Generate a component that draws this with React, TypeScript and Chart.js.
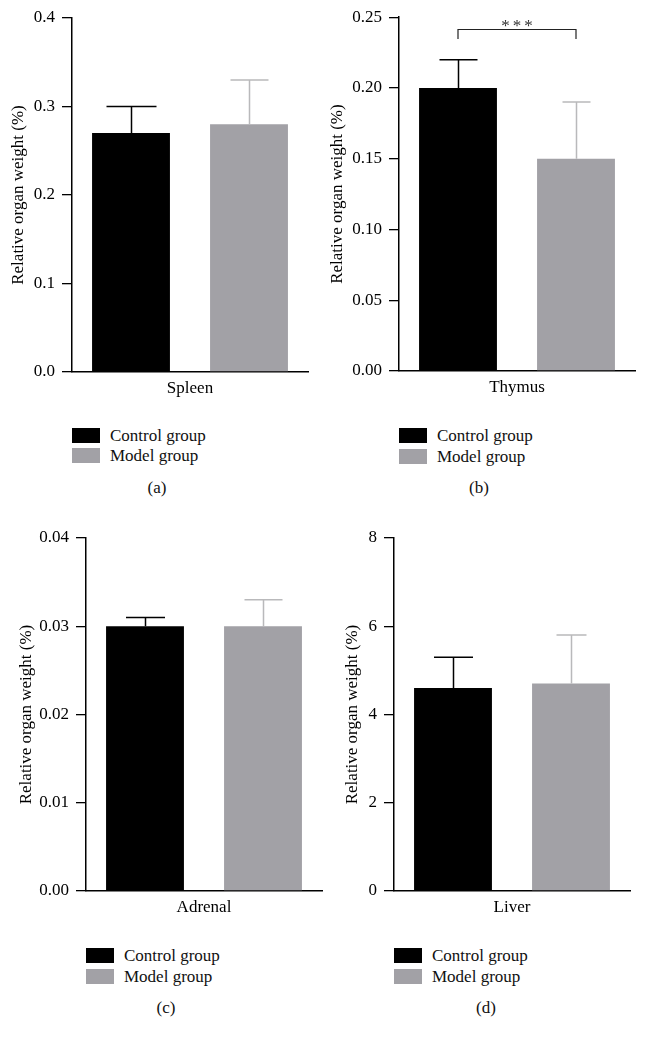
import React, { useEffect, useRef } from "react";
import { Chart, registerables } from "chart.js";

Chart.register(...registerables);

// ---------- data ----------
const seriesNames = ["Control group", "Model group"];
const organs = ["Spleen", "Thymus", "Adrenal", "Liver"];
const panelLetters = ["(a)", "(b)", "(c)", "(d)"];
const yAxisTitle = "Relative organ weight (%)";
const controlMeans = [0.27, 0.2, 0.03, 4.6];
const controlSD = [0.03, 0.02, 0.001, 0.7];
const modelMeans = [0.28, 0.15, 0.03, 4.7];
const modelSD = [0.05, 0.04, 0.003, 1.1];
const yMax = [0.4, 0.25, 0.04, 8];
const yStep = [0.1, 0.05, 0.01, 2];
const yDecimals = [1, 2, 2, 0];
const sigLabels = ["", "***", "", ""];
const sigBracketValue = [0, 0.2415, 0, 0];

// ---------- style / layout ----------
const FONT = "'Liberation Serif', 'Times New Roman', serif";
const barColors = ["#000000", "#a2a1a6"];
const errColors = ["#000000", "#b9b9bb"];
const capWidths = [
  [50, 38],
  [38, 28],
  [39, 38],
  [39, 30],
];
type Layout = {
  left: number; top: number; w: number; h: number;
  axisX: number; areaTop: number; areaBottom: number; areaRight: number;
  titleX: number;
  legendX: number; legendY: number; legendGap: number;
  captionX: number; captionY: number;
};
const layouts: Layout[] = [
  { left: 0, top: 0, w: 322, h: 400, axisX: 72, areaTop: 18, areaBottom: 372, areaRight: 308, titleX: 19, legendX: 72, legendY: 428, legendGap: 20, captionX: 157, captionY: 488 },
  { left: 322, top: 0, w: 323, h: 400, axisX: 399, areaTop: 17, areaBottom: 371, areaRight: 635, titleX: 338, legendX: 399, legendY: 428, legendGap: 21, captionX: 479, captionY: 488 },
  { left: 0, top: 520, w: 324, h: 400, axisX: 86, areaTop: 538, areaBottom: 891, areaRight: 322, titleX: 27, legendX: 86, legendY: 948, legendGap: 21, captionX: 166, captionY: 1008 },
  { left: 324, top: 520, w: 321, h: 400, axisX: 394, areaTop: 538, areaBottom: 891, areaRight: 630, titleX: 353, legendX: 394, legendY: 948, legendGap: 21, captionX: 486, captionY: 1008 },
];
const FS = 17;

function makeOverlayPlugin(idx: number) {
  return {
    id: "errorbars" + idx,
    afterDatasetsDraw(chart: any) {
      const ctx = chart.ctx;
      const yScale = chart.scales.y;
      const means = [controlMeans[idx], modelMeans[idx]];
      const sds = [controlSD[idx], modelSD[idx]];
      ctx.save();
      for (let d = 0; d < 2; d++) {
        const meta = chart.getDatasetMeta(d);
        const bar = meta.data[0];
        const x = Math.round(bar.x) + 0.5;
        const yBase = yScale.getPixelForValue(means[d]);
        const yTop = yScale.getPixelForValue(means[d] + sds[d]);
        ctx.strokeStyle = errColors[d];
        ctx.lineWidth = 1.5;
        ctx.beginPath();
        ctx.moveTo(x, yBase);
        ctx.lineTo(x, yTop);
        const cw = capWidths[idx][d] / 2;
        ctx.moveTo(x - cw, yTop);
        ctx.lineTo(x + cw, yTop);
        ctx.stroke();
      }
      if (sigLabels[idx]) {
        const b0 = chart.getDatasetMeta(0).data[0];
        const b1 = chart.getDatasetMeta(1).data[0];
        const yb = Math.round(yScale.getPixelForValue(sigBracketValue[idx])) + 0.5;
        ctx.strokeStyle = "#222";
        ctx.lineWidth = 1.2;
        ctx.beginPath();
        ctx.moveTo(b0.x, yb + 9.5);
        ctx.lineTo(b0.x, yb);
        ctx.lineTo(b1.x, yb);
        ctx.lineTo(b1.x, yb + 9.5);
        ctx.stroke();
        ctx.fillStyle = "#333";
        ctx.font = `${FS}px ${FONT}`;
        ctx.textAlign = "center";
        ctx.textBaseline = "alphabetic";
        try { (ctx as any).letterSpacing = "3px"; } catch (e) {}
        ctx.fillText(sigLabels[idx], (b0.x + b1.x) / 2 + 1.5, yb + 1);
      }
      ctx.restore();
    },
  };
}

function Panel({ idx }: { idx: number }) {
  const ref = useRef<HTMLCanvasElement>(null);
  const L = layouts[idx];
  useEffect(() => {
    const font = { family: FONT, size: FS };
    const lineH = FS * 1.2;
    const chart = new Chart(ref.current as HTMLCanvasElement, {
      type: "bar",
      data: {
        labels: [organs[idx]],
        datasets: [
          { label: seriesNames[0], data: [controlMeans[idx]], backgroundColor: barColors[0], borderWidth: 0, categoryPercentage: 1, barPercentage: 0.66 },
          { label: seriesNames[1], data: [modelMeans[idx]], backgroundColor: barColors[1], borderWidth: 0, categoryPercentage: 1, barPercentage: 0.66 },
        ],
      },
      options: {
        animation: false,
        responsive: false,
        layout: {
          padding: { left: 0, top: L.areaTop - L.top, right: L.left + L.w - L.areaRight, bottom: 0 },
        },
        plugins: { legend: { display: false }, tooltip: { enabled: false } },
        scales: {
          x: {
            grid: { display: false, drawTicks: false },
            border: { display: true, color: "#000", width: 1.5 },
            ticks: { color: "#000", font, padding: 6 },
            afterFit: (s: any) => { s.height = L.top + L.h - L.areaBottom; },
          },
          y: {
            min: 0,
            max: yMax[idx],
            ticks: {
              stepSize: yStep[idx],
              color: "#000",
              font,
              padding: 7,
              callback: (v: any) => Number(v).toFixed(yDecimals[idx]),
            },
            grid: { drawOnChartArea: false, drawTicks: true, tickLength: 10, color: "#000", lineWidth: 1.3 },
            border: { display: true, color: "#000", width: 1.5 },
            title: {
              display: true,
              text: yAxisTitle,
              color: "#000",
              font,
              padding: { top: L.titleX - L.left - lineH / 2, bottom: 0 },
            },
            afterFit: (s: any) => { s.width = L.axisX - L.left; },
          },
        },
      } as any,
      plugins: [makeOverlayPlugin(idx)],
    });
    return () => chart.destroy();
  }, []);
  return (
    <>
      <canvas
        ref={ref}
        width={L.w}
        height={L.h}
        style={{ position: "absolute", left: L.left, top: L.top, width: L.w, height: L.h }}
      />
      {seriesNames.map((name, s) => (
        <div
          key={name}
          style={{
            position: "absolute",
            left: L.legendX,
            top: L.legendY + s * L.legendGap,
            height: 15,
            display: "flex",
            alignItems: "center",
            whiteSpace: "nowrap",
          }}
        >
          <div style={{ width: 28, height: 15, background: barColors[s] }} />
          <span style={{ marginLeft: 10, fontFamily: FONT, fontSize: FS, color: "#111", lineHeight: "15px" }}>{name}</span>
        </div>
      ))}
      <div
        style={{
          position: "absolute",
          left: L.captionX - 40,
          width: 80,
          top: L.captionY - 10,
          height: 20,
          lineHeight: "20px",
          textAlign: "center",
          fontFamily: FONT,
          fontSize: FS,
          color: "#111",
        }}
      >
        {panelLetters[idx]}
      </div>
    </>
  );
}

export default function App() {
  return (
    <div style={{ position: "absolute", left: 0, top: 0, width: 645, height: 1041, background: "#fff", overflow: "hidden" }}>
      {organs.map((_, i) => (
        <Panel key={i} idx={i} />
      ))}
    </div>
  );
}
